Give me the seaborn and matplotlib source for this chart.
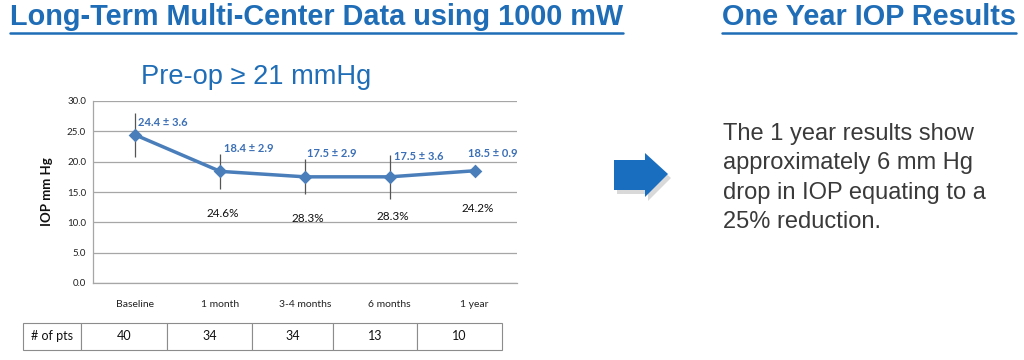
import numpy as np
import pandas as pd
import matplotlib
matplotlib.use("Agg")
import matplotlib.pyplot as plt
from matplotlib.patches import Polygon
from matplotlib.lines import Line2D
import seaborn as sns

# ---------------- data ----------------
categories = ["Baseline", "1 month", "3-4 months", "6 months", "1 year"]
iop_mean = [24.4, 18.4, 17.5, 17.5, 18.5]
iop_sd = [3.6, 2.9, 2.9, 3.6, 0.9]
reduction_labels = ["", "24.6%", "28.3%", "28.3%", "24.2%"]
n_pts = [40, 34, 34, 13, 10]
y_ticks = [0, 5, 10, 15, 20, 25, 30]

title_left = "Long-Term Multi-Center Data using 1000 mW"
title_right = "One Year IOP Results"
subtitle = "Pre-op \u2265 21 mmHg"
summary = ("The 1 year results show\napproximately 6 mm Hg\n"
           "drop in IOP equating to a\n25% reduction.")

# ---------------- style ----------------
sns.set_theme(style="white")
plt.rcParams["font.family"] = ["Liberation Sans", "DejaVu Sans"]

W, H = 1024, 360
fig = plt.figure(figsize=(W / 100, H / 100), dpi=100)
fig.patch.set_facecolor("white")

def fx(px):
    return px / W

def fy(py):
    return 1 - py / H

blue_title = "#1f6db6"
line_blue = "#4a7ebb"
label_blue = "#3b6fb6"
chart_font = ["Lato", "DejaVu Sans"]

# ---------------- main chart ----------------
ax = fig.add_axes([fx(93), fy(283), fx(517 - 93), (283 - 101) / H])
df = pd.DataFrame({"time": categories, "iop": iop_mean, "sd": iop_sd})

ax.errorbar(np.arange(len(categories)), df["iop"], yerr=df["sd"], fmt="none",
            ecolor="#555555", elinewidth=0.9, capsize=0, zorder=2)
sns.pointplot(data=df, x="time", y="iop", order=categories, color=line_blue,
              markers="D", errorbar=None, ax=ax, linewidth=2.5,
              markersize=5, zorder=3)

ax.set_xlim(-0.5, len(categories) - 0.5)
ax.set_ylim(0, 30)
ax.set_yticks(y_ticks)
ax.set_yticklabels([f"{v:.1f}" for v in y_ticks], fontsize=7, family=chart_font,
                   color="#222222")
ax.set_xticks(range(len(categories)))
ax.set_xticklabels(categories, fontsize=7.5, family=chart_font, color="#222222")
ax.tick_params(axis="both", length=0, pad=5)
ax.tick_params(axis="x", pad=12)
ax.set_xlabel("")
ax.set_ylabel("IOP mm Hg", fontsize=9.5, fontweight="bold", family=chart_font,
              labelpad=10, color="#111111")
ax.yaxis.grid(True, color="#a6a6a6", linewidth=0.9)
ax.xaxis.grid(False)
for s in ["top", "right"]:
    ax.spines[s].set_visible(False)
for s in ["left", "bottom"]:
    ax.spines[s].set_color("#a6a6a6")
    ax.spines[s].set_linewidth(0.9)
ax.set_axisbelow(True)

# value labels
label_dx = [3, 4, 2, 4, -7]
label_dy = [2.0, 3.8, 3.9, 3.4, 2.9]
for i, (m, s) in enumerate(zip(iop_mean, iop_sd)):
    ax.annotate(f"{m:.1f} \u00b1 {s:.1f}", xy=(i, m + label_dy[i]),
                xytext=(label_dx[i], 0), textcoords="offset pixels",
                ha="left", va="center", fontsize=8, fontweight="bold",
                color=label_blue, family=chart_font)
pct_dy = [0, -7.0, -6.8, -6.6, -6.3]
for i, lab in enumerate(reduction_labels):
    if lab:
        ax.annotate(lab, xy=(i, iop_mean[i] + pct_dy[i]), xytext=(3, 0),
                    textcoords="offset pixels", ha="center", va="center",
                    fontsize=8.5, color="#111111", family=chart_font)

# ---------------- table ----------------
tax = fig.add_axes([fx(23), fy(350), fx(502 - 23), (350 - 323) / H])
tax.axis("off")
cells = [["# of pts"] + [str(n) for n in n_pts]]
widths = np.array([58, 86, 85, 81, 84, 85], dtype=float)
tbl = tax.table(cellText=cells, cellLoc="center", bbox=[0, 0, 1, 1],
                colWidths=list(widths / widths.sum()))
tbl.auto_set_font_size(False)
for (r, c), cell in tbl.get_celld().items():
    cell.set_edgecolor("#8c8c8c")
    cell.set_linewidth(0.8)
    cell.get_text().set_fontsize(9)
    cell.get_text().set_family(chart_font)
    cell.get_text().set_color("#111111")

# ---------------- titles & text ----------------
t1 = fig.text(fx(10), fy(17), title_left, ha="left", va="center",
              fontsize=20.8, fontweight="bold", color=blue_title)
t2 = fig.text(fx(722), fy(17), title_right, ha="left", va="center",
              fontsize=20.8, fontweight="bold", color=blue_title)
fig.text(fx(256), fy(77), subtitle, ha="center", va="center", fontsize=19.6,
         color=blue_title)
fig.text(fx(723), fy(178), summary, ha="left", va="center", fontsize=17,
         color="#3a3a3a", linespacing=1.45)

fig.canvas.draw()
r = fig.canvas.get_renderer()
for t in (t1, t2):
    bb = t.get_window_extent(renderer=r)
    y_line = fy(33)
    fig.add_artist(Line2D([bb.x0 / W, bb.x1 / W], [y_line, y_line],
                          transform=fig.transFigure, color=blue_title, lw=1.8))

# ---------------- arrow ----------------
arrow_px = [(614, 160), (645, 160), (645, 153), (668, 174), (645, 197),
            (645, 190), (614, 190)]
shadow = Polygon([(fx(x + 3), fy(y + 4)) for x, y in arrow_px],
                 closed=True, transform=fig.transFigure, facecolor="#000000",
                 alpha=0.15, edgecolor="none")
arrow = Polygon([(fx(x), fy(y)) for x, y in arrow_px], closed=True,
                transform=fig.transFigure, facecolor="#1a6ec0",
                edgecolor="none")
fig.add_artist(shadow)
fig.add_artist(arrow)

fig.savefig("out.png", dpi=100, facecolor="white")
